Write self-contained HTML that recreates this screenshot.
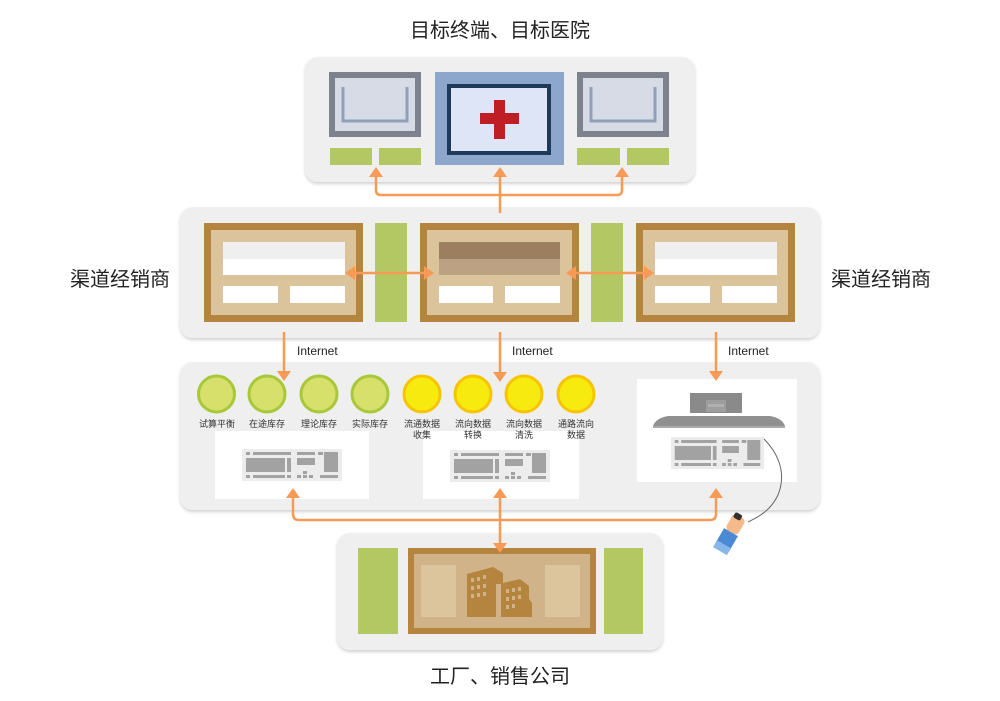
<!DOCTYPE html>
<html><head><meta charset="utf-8"><style>
html,body{margin:0;padding:0;background:#fff;}
svg{display:block;}
text{font-family:"Liberation Sans","Noto Sans CJK SC",sans-serif;}
</style></head><body>
<svg width="1000" height="701" viewBox="0 0 1000 701" xmlns="http://www.w3.org/2000/svg">
<defs>
<g id="kb">
<rect x="0" y="0" width="100" height="32" fill="#ececec"/>
<g fill="#a2a2a2">
<rect x="4" y="3" width="4" height="3"/><rect x="11" y="3" width="38" height="3"/><rect x="55" y="3" width="18" height="3"/><rect x="76" y="3" width="5" height="3"/>
<rect x="4" y="9" width="39" height="14"/><rect x="45" y="9" width="4" height="14"/><rect x="55" y="9" width="18" height="7"/><rect x="82" y="3" width="14" height="20"/>
<rect x="4" y="26" width="4" height="3"/><rect x="11" y="26" width="32" height="3"/><rect x="45" y="26" width="4" height="3"/><rect x="55" y="26" width="4" height="3"/><rect x="61" y="22" width="4" height="3"/><rect x="61" y="26" width="4" height="3"/><rect x="67" y="26" width="4" height="3"/><rect x="78" y="26" width="18" height="3"/>
</g>
</g>
<filter id="sh" x="-5%" y="-5%" width="110%" height="115%"><feDropShadow dx="0" dy="2" stdDeviation="1.5" flood-color="#000" flood-opacity="0.18"/></filter>
</defs>

<text x="500" y="37" font-size="20" text-anchor="middle" fill="#222">目标终端、目标医院</text>

<!-- top panel -->
<rect x="305" y="57" width="390" height="125" rx="13" fill="#efefef" filter="url(#sh)"/>
<rect x="329" y="72" width="92" height="65" fill="#7d828c"/>
<rect x="335" y="78" width="80" height="53" fill="#d7dbe5"/>
<path d="M343 87 V121 H407 V87" fill="none" stroke="#8fa0b8" stroke-width="3"/>
<rect x="330" y="148" width="42" height="17" fill="#b3c762"/>
<rect x="379" y="148" width="42" height="17" fill="#b3c762"/>
<rect x="435" y="72" width="129" height="93" fill="#8da6cb"/>
<rect x="447" y="84" width="104" height="71" fill="#1e3a5a"/>
<rect x="451" y="88" width="96" height="63" fill="#dde5f7"/>
<rect x="480" y="113" width="39" height="11" fill="#bf1e24"/>
<rect x="494" y="100" width="11" height="39" fill="#bf1e24"/>
<rect x="577" y="72" width="92" height="65" fill="#7d828c"/>
<rect x="583" y="78" width="80" height="53" fill="#d7dbe5"/>
<path d="M591 87 V121 H655 V87" fill="none" stroke="#8fa0b8" stroke-width="3"/>
<rect x="577" y="148" width="43" height="17" fill="#b3c762"/>
<rect x="627" y="148" width="42" height="17" fill="#b3c762"/>

<!-- middle panel -->
<rect x="180" y="207" width="640" height="131" rx="13" fill="#efefef" filter="url(#sh)"/>
<g>
<rect x="204" y="223" width="159" height="99" fill="#b5843f"/>
<rect x="211" y="230" width="145" height="85" fill="#dbc49b"/>
<rect x="223" y="242" width="122" height="17" fill="#efefef"/>
<rect x="223" y="259" width="122" height="16" fill="#fff"/>
<rect x="223" y="286" width="55" height="17" fill="#fff"/>
<rect x="290" y="286" width="55" height="17" fill="#fff"/>
</g>
<rect x="375" y="223" width="32" height="99" fill="#b3c762"/>
<g>
<rect x="420" y="223" width="159" height="99" fill="#b5843f"/>
<rect x="427" y="230" width="145" height="85" fill="#dbc49b"/>
<rect x="439" y="242" width="121" height="17" fill="#9c7f5f"/>
<rect x="439" y="259" width="121" height="16" fill="#bca282"/>
<rect x="439" y="286" width="54" height="17" fill="#fff"/>
<rect x="505" y="286" width="55" height="17" fill="#fff"/>
</g>
<rect x="591" y="223" width="32" height="99" fill="#b3c762"/>
<g>
<rect x="636" y="223" width="159" height="99" fill="#b5843f"/>
<rect x="643" y="230" width="145" height="85" fill="#dbc49b"/>
<rect x="655" y="242" width="122" height="17" fill="#efefef"/>
<rect x="655" y="259" width="122" height="16" fill="#fff"/>
<rect x="655" y="286" width="55" height="17" fill="#fff"/>
<rect x="722" y="286" width="55" height="17" fill="#fff"/>
</g>
<text x="120" y="286" font-size="20" text-anchor="middle" fill="#222">渠道经销商</text>
<text x="881" y="286" font-size="20" text-anchor="middle" fill="#222">渠道经销商</text>

<!-- bottom panel -->
<rect x="180" y="362" width="640" height="148" rx="13" fill="#efefef" filter="url(#sh)"/>
<g stroke-width="3">
<circle cx="216.5" cy="394" r="18" fill="#d6e06a" stroke="#a8c83a"/>
<circle cx="267" cy="394" r="18" fill="#d6e06a" stroke="#a8c83a"/>
<circle cx="319" cy="394" r="18" fill="#d6e06a" stroke="#a8c83a"/>
<circle cx="370" cy="394" r="18" fill="#d6e06a" stroke="#a8c83a"/>
<circle cx="422" cy="394" r="18" fill="#f7ea0e" stroke="#f7c400"/>
<circle cx="473" cy="394" r="18" fill="#f7ea0e" stroke="#f7c400"/>
<circle cx="524" cy="394" r="18" fill="#f7ea0e" stroke="#f7c400"/>
<circle cx="576" cy="394" r="18" fill="#f7ea0e" stroke="#f7c400"/>
</g>
<rect x="215" y="431" width="154" height="68" fill="#fff"/>
<use href="#kb" x="242" y="449"/>
<rect x="423" y="431" width="156" height="68" fill="#fff"/>
<use href="#kb" x="450" y="450"/>
<g font-size="9" fill="#333" text-anchor="middle">
<text x="217" y="427">试算平衡</text>
<text x="267" y="427">在途库存</text>
<text x="319" y="427">理论库存</text>
<text x="370" y="427">实际库存</text>
<text x="422" y="427">流通数据</text><text x="422" y="438">收集</text>
<text x="473" y="427">流向数据</text><text x="473" y="438">转换</text>
<text x="524" y="427">流向数据</text><text x="524" y="438">清洗</text>
<text x="576" y="427">通路流向</text><text x="576" y="438">数据</text>
</g>
<rect x="637" y="379" width="160" height="103" fill="#fff"/>
<rect x="690" y="393" width="52" height="20" fill="#8a8a8a"/>
<rect x="706" y="400" width="20" height="12" fill="#9e9e9e"/>
<rect x="708" y="404" width="16" height="3" fill="#b0b0b0"/>
<path d="M653 426 Q656 418 668 416 L770 416 Q782 418 785 426 Z" fill="#909090"/>
<rect x="653" y="426" width="132" height="2" fill="#aaaaaa"/>
<use href="#kb" x="671" y="437" transform="translate(671 437) scale(0.93 1) translate(-671 -437)"/>
<path d="M764 439 C775 450 788 470 778 495 C770 512 756 518 748 522" fill="none" stroke="#666" stroke-width="1"/>
<!-- hand -->
<g transform="translate(738 520) rotate(30)">
<rect x="-7" y="-4" width="14" height="18" rx="4" fill="#f6b98a"/>
<rect x="-6" y="-6" width="8" height="6" rx="2" fill="#333"/>
<rect x="-8" y="14" width="16" height="18" fill="#4a8ad4"/>
<rect x="-8" y="28" width="16" height="8" fill="#86b6ea"/>
</g>

<!-- factory panel -->
<rect x="337" y="533" width="326" height="117" rx="13" fill="#efefef" filter="url(#sh)"/>
<rect x="358" y="548" width="40" height="86" fill="#b3c762"/>
<rect x="604" y="548" width="39" height="86" fill="#b3c762"/>
<rect x="408" y="548" width="188" height="86" fill="#b5843f"/>
<rect x="414" y="554" width="176" height="74" fill="#d1b38a"/>
<rect x="421" y="565" width="35" height="52" fill="#dcc49c"/>
<rect x="545" y="565" width="35" height="52" fill="#dcc49c"/>
<path d="M467 617 V574 L493 567 L503 573 V583 L520 579 L529 586 V599 L532 603 V617 Z" fill="#b5843f"/>
<g fill="#d1b38a">
<rect x="471" y="578" width="3" height="4"/><rect x="477" y="577" width="3" height="4"/><rect x="483" y="575" width="3" height="4"/>
<rect x="471" y="586" width="3" height="4"/><rect x="477" y="585" width="3" height="4"/><rect x="483" y="584" width="3" height="4"/>
<rect x="471" y="594" width="3" height="4"/><rect x="477" y="593" width="3" height="4"/><rect x="483" y="592" width="3" height="4"/>
<rect x="496" y="584" width="5" height="33"/>
<rect x="506" y="589" width="3" height="4"/><rect x="512" y="588" width="3" height="4"/><rect x="518" y="587" width="3" height="4"/>
<rect x="506" y="597" width="3" height="4"/><rect x="512" y="596" width="3" height="4"/><rect x="518" y="595" width="3" height="4"/>
<rect x="506" y="605" width="3" height="4"/><rect x="512" y="604" width="3" height="4"/>
</g>
<text x="500" y="683" font-size="20" text-anchor="middle" fill="#222">工厂、销售公司</text>

<!-- arrows -->
<g stroke="#f79a55" stroke-width="2.5" fill="none">
<path d="M500 213 V172"/>
<path d="M376 172 V190 Q376 195 381 195 H617 Q622 195 622 190 V172"/>
<path d="M350 273 H429"/>
<path d="M571 273 H649"/>
<path d="M284 332 V374"/>
<path d="M500 332 V376"/>
<path d="M716 332 V375"/>
<path d="M293 493 V514 Q293 520 299 520 H710 Q716 520 716 514 V493"/>
<path d="M500 493 V546"/>
</g>
<g fill="#f79a55">
<path d="M376 167 L369 177 L383 177 Z"/>
<path d="M500 167 L493 177 L507 177 Z"/>
<path d="M622 167 L615 177 L629 177 Z"/>
<path d="M345 273 L355 266 L355 280 Z"/>
<path d="M434 273 L424 266 L424 280 Z"/>
<path d="M566 273 L576 266 L576 280 Z"/>
<path d="M654 273 L644 266 L644 280 Z"/>
<path d="M284 381 L277 371 L291 371 Z"/>
<path d="M500 382 L493 372 L507 372 Z"/>
<path d="M716 381 L709 371 L723 371 Z"/>
<path d="M293 488 L286 498 L300 498 Z"/>
<path d="M500 488 L493 498 L507 498 Z"/>
<path d="M716 488 L709 498 L723 498 Z"/>
<path d="M500 553 L493 543 L507 543 Z"/>
</g>
<g font-size="12" fill="#222">
<text x="297" y="355">Internet</text>
<text x="512" y="355">Internet</text>
<text x="728" y="355">Internet</text>
</g>
</svg>
</body></html>
